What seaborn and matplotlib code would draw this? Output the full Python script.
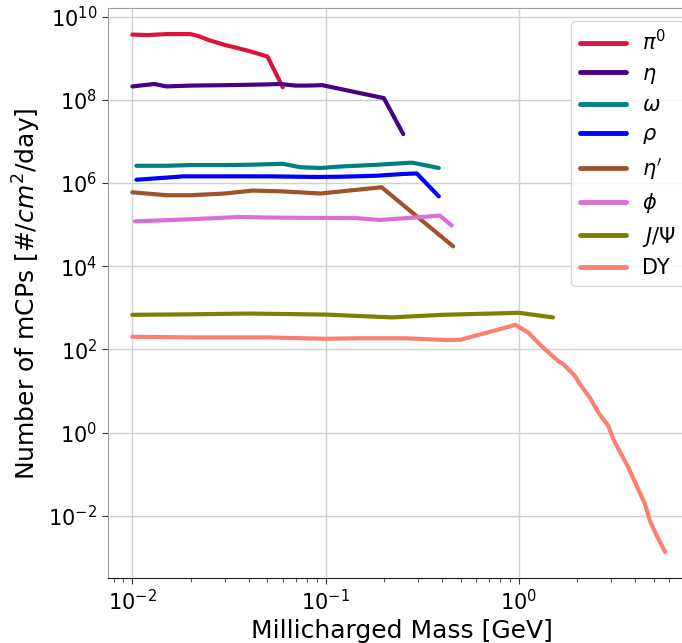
import numpy as np
import pandas as pd
import matplotlib
matplotlib.use("Agg")
import matplotlib.pyplot as plt
import seaborn as sns

# mass points [GeV] and fluxes [#/cm^2/day]
pi0_m = [0.01, 0.012, 0.015, 0.02, 0.022, 0.025, 0.03, 0.04, 0.05, 0.06]
pi0_n = [3.7e9, 3.6e9, 3.8e9, 3.8e9, 3.4e9, 2.7e9, 2.1e9, 1.5e9, 1.1e9, 2.0e8]

eta_m = [0.01, 0.013, 0.015, 0.02, 0.03, 0.04, 0.05, 0.058, 0.07, 0.08, 0.096, 0.2, 0.252]
eta_n = [2.1e8, 2.4e8, 2.1e8, 2.2e8, 2.25e8, 2.3e8, 2.35e8, 2.4e8, 2.2e8, 2.2e8, 2.25e8, 1.1e8, 1.5e7]

omega_m = [0.0105, 0.015, 0.02, 0.03, 0.04, 0.06, 0.074, 0.094, 0.12, 0.184, 0.28, 0.385]
omega_n = [2.6e6, 2.6e6, 2.7e6, 2.7e6, 2.75e6, 2.9e6, 2.4e6, 2.3e6, 2.5e6, 2.75e6, 3.1e6, 2.3e6]

rho_m = [0.0105, 0.015, 0.0183, 0.03, 0.05, 0.07, 0.09, 0.12, 0.184, 0.25, 0.296, 0.385]
rho_n = [1.2e6, 1.35e6, 1.45e6, 1.45e6, 1.45e6, 1.42e6, 1.4e6, 1.42e6, 1.5e6, 1.65e6, 1.7e6, 4.8e5]

etap_m = [0.01, 0.015, 0.02, 0.03, 0.042, 0.06, 0.094, 0.15, 0.195, 0.457]
etap_n = [6.0e5, 5.1e5, 5.1e5, 5.6e5, 6.6e5, 6.3e5, 5.6e5, 7.0e5, 7.9e5, 3.0e4]

phi_m = [0.0103, 0.015, 0.02, 0.036, 0.05, 0.094, 0.14, 0.19, 0.3, 0.39, 0.449]
phi_n = [1.2e5, 1.28e5, 1.35e5, 1.53e5, 1.48e5, 1.45e5, 1.45e5, 1.3e5, 1.5e5, 1.65e5, 9.5e4]

jpsi_m = [0.01, 0.02, 0.04, 0.1, 0.22, 0.4, 1.0, 1.5]
jpsi_n = [680, 700, 730, 690, 590, 680, 760, 590]

dy_m = [0.01, 0.02, 0.05, 0.1, 0.15, 0.26, 0.43, 0.5, 0.96, 1.12, 1.31, 1.6, 1.7,
        1.95, 2.07, 2.33, 2.58, 2.9, 3.08, 3.68, 4.07, 4.49, 4.76, 5.17, 5.7]
dy_n = [202, 195, 195, 181, 186, 186, 168, 172, 390, 252, 120, 52, 44,
        23, 14.5, 6.9, 3.0, 1.45, 0.69, 0.145, 0.052, 0.019, 0.0076, 0.0033, 0.00136]

labels = [r"$\pi^0$", r"$\eta$", r"$\omega$", r"$\rho$", r"$\eta'$", r"$\phi$", r"$J/\Psi$", "DY"]
colors = ["crimson", "indigo", "teal", "blue", "sienna", "orchid", "olive", "salmon"]

masses = [pi0_m, eta_m, omega_m, rho_m, etap_m, phi_m, jpsi_m, dy_m]
counts = [pi0_n, eta_n, omega_n, rho_n, etap_n, phi_n, jpsi_n, dy_n]

df = pd.concat([
    pd.DataFrame({"mass": m, "n": n, "source": lab})
    for m, n, lab in zip(masses, counts, labels)
], ignore_index=True)

sns.set_style("whitegrid", {
    "xtick.bottom": True, "ytick.left": True,
    "grid.color": "#d0d0d0",
    "text.color": "black", "axes.labelcolor": "black",
    "xtick.color": "black", "ytick.color": "black",
})

fig = plt.figure(figsize=(6.82, 6.43), dpi=100)
# axes run a little past the right edge (legend is clipped in the reference)
ax = fig.add_axes([0.158, 0.1006, 0.864, 0.8865])

sns.lineplot(data=df, x="mass", y="n", hue="source", hue_order=labels,
             palette=dict(zip(labels, colors)), linewidth=3, estimator=None,
             ax=ax)

ax.set_xscale("log")
ax.set_yscale("log")
ax.set_xlim(10 ** -2.127, 10 ** 0.921)
ax.set_ylim(10 ** -3.5, 10 ** 10.2)
ax.set_yticks([1e-2, 1e0, 1e2, 1e4, 1e6, 1e8, 1e10])
ax.yaxis.set_minor_locator(matplotlib.ticker.NullLocator())
ax.grid(True, which="major", color="#d0d0d0", linewidth=1)
ax.tick_params(axis="both", which="major", labelsize=15, length=4, color="#333333")
ax.tick_params(axis="x", which="minor", length=3, color="#333333", bottom=True)

for side in ["left", "top", "right"]:
    ax.spines[side].set_color("#a0a0a0")
ax.spines["bottom"].set_color("#222222")

ax.set_xlabel("Millicharged Mass [GeV]", fontsize=18)
ax.set_ylabel(r"Number of mCPs [$\#/cm^2$/day]", fontsize=18)

leg = ax.legend(loc="upper right", fontsize=15, handlelength=2.2,
                labelspacing=0.45, borderaxespad=0.6)
for line in leg.get_lines():
    line.set_linewidth(3.5)

fig.savefig("out.png", dpi=100)
